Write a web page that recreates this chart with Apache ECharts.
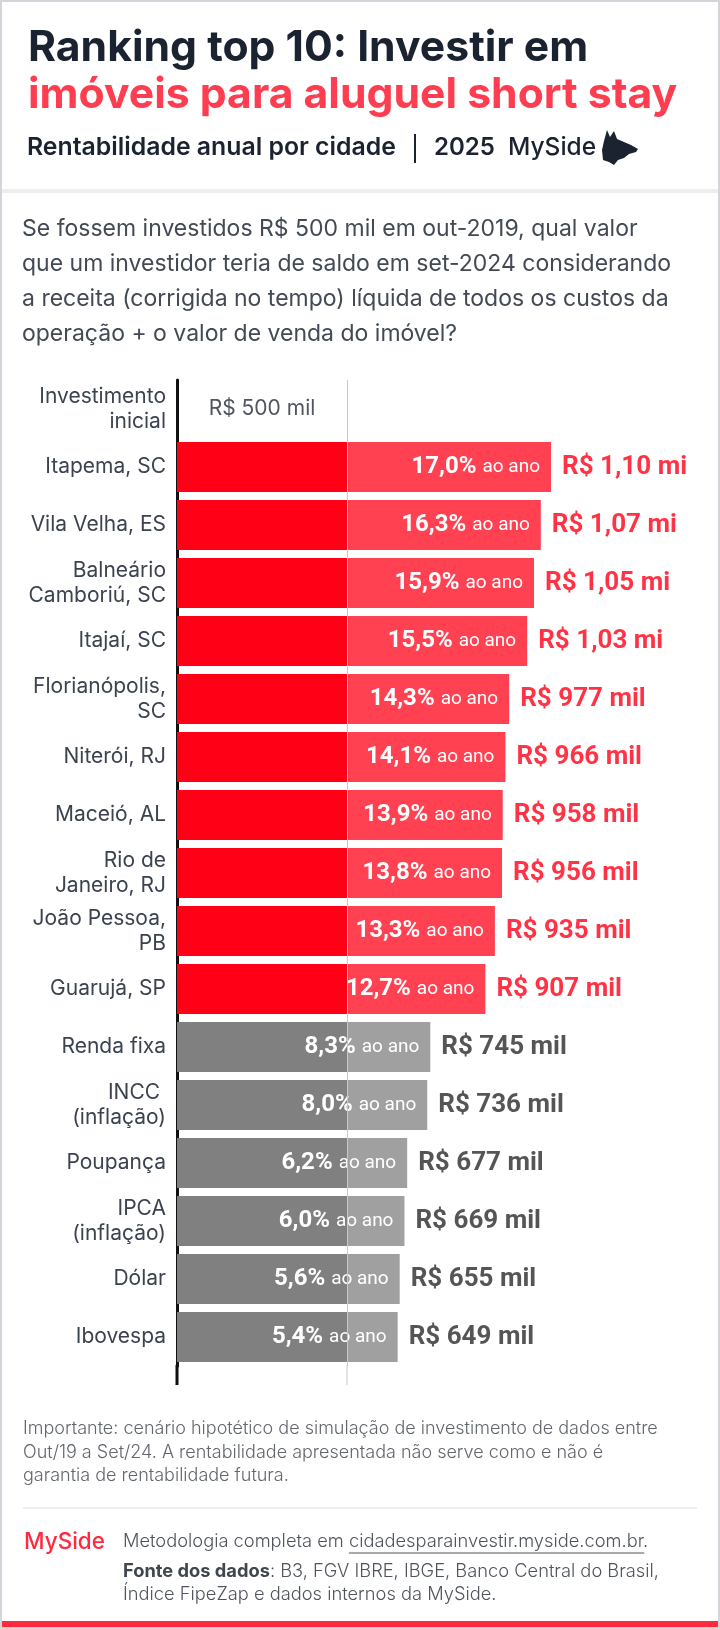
<!DOCTYPE html>
<html><head><meta charset="utf-8">
<script src="https://cdn.jsdelivr.net/npm/echarts@6/dist/echarts.min.js"></script>
<style>html,body{margin:0;padding:0;background:#fff}#c{width:720px;height:1629px}</style>
</head><body><div id="c"></div>
<script>
// ---- DATA ----
const categories = ["Investimento\ninicial","Itapema, SC","Vila Velha, ES","Balneário\nCamboriú, SC","Itajaí, SC","Florianópolis,\nSC","Niterói, RJ","Maceió, AL","Rio de\nJaneiro, RJ","João Pessoa,\nPB","Guarujá, SP","Renda fixa","INCC \n(inflação)","Poupança","IPCA\n(inflação)","Dólar","Ibovespa"];
const rowType = ["inicial","imovel","imovel","imovel","imovel","imovel","imovel","imovel","imovel","imovel","imovel","outro","outro","outro","outro","outro","outro"];
const initialInvestment = 500; // R$ mil
const finalValues = [null,1100,1070,1050,1030,977,966,958,956,935,907,745,736,677,669,655,649]; // R$ mil
const annualRates = [null,17.0,16.3,15.9,15.5,14.3,14.1,13.9,13.8,13.3,12.7,8.3,8.0,6.2,6.0,5.6,5.4]; // % ao ano

const titleLine1 = "Ranking top 10: Investir em";
const titleLine2 = "imóveis para aluguel short stay";
const subtitle = "Rentabilidade anual por cidade";
const year = "2025";
const question = ["Se fossem investidos R$ 500 mil em out-2019, qual valor","que um investidor teria de saldo em set-2024 considerando","a receita (corrigida no tempo) líquida de todos os custos da","operação + o valor de venda do imóvel?"];
const note = ["Importante: cenário hipotético de simulação de investimento de dados entre","Out/19 a Set/24. A rentabilidade apresentada não serve como e não é","garantia de rentabilidade futura."];

// ---- HELPERS ----
const fmtMoney = v => v >= 1000 ? 'R$ ' + (v/1000).toFixed(2).replace('.', ',') + ' mi' : 'R$ ' + v + ' mil';
const fmtRate = r => r.toFixed(1).replace('.', ',') + '%';
const C = {
  darkRed:'#ff0016', lightRed:'#ff4152', darkGray:'#808080', lightGray:'#a0a0a0',
  ink:'#1b2230', coral:'#ff3d50', text:'#434a55', label:'#3c4350'
};

const chart = echarts.init(document.getElementById('c'), null, {renderer:'canvas'});

const baseOption = {
  backgroundColor:'#ffffff',
  animation:false,
  grid:{left:177, right:67, top:380, height:986},
  xAxis:{type:'value', min:0, max:1400, show:false},
  yAxis:{type:'category', data:categories, inverse:true,
    axisLine:{show:true, lineStyle:{color:'#111', width:3}},
    axisTick:{show:false},
    axisLabel:{fontFamily:'Inter', fontSize:21, color:C.label, lineHeight:25, margin:11, align:'right'}
  },
  series:[
    {type:'line', data:[], z:1, silent:true,
      markLine:{silent:true, symbol:'none', label:{show:false},
        lineStyle:{color:'#c8c8c8', width:1, type:'solid'}, data:[{xAxis:initialInvestment}]}},
    {type:'bar', stack:'s', barWidth:50, z:2,
      data: categories.map((c,i)=>({
        value: initialInvestment,
        itemStyle:{color: rowType[i]==='inicial' ? 'rgba(0,0,0,0)' : (rowType[i]==='imovel' ? C.darkRed : C.darkGray)},
        label: rowType[i]==='inicial'
          ? {show:true, position:'inside', formatter: fmtMoney(initialInvestment), color:'#50555f', fontSize:21, fontFamily:'Inter'}
          : {show:false}
      }))},
    {type:'bar', stack:'s', barWidth:50, z:2,
      data: finalValues.map((v,i)=> v==null ? '-' : ({
        value: v - initialInvestment,
        itemStyle:{color: rowType[i]==='imovel' ? C.lightRed : C.lightGray}
      })),
      label:{show:true, position:'insideRight', distance:11,
        formatter: p => annualRates[p.dataIndex]==null ? '' : '{p|' + fmtRate(annualRates[p.dataIndex]) + '}{a|ao ano}',
        rich:{
          p:{fontFamily:'Roboto', fontWeight:'bold', fontSize:24, color:'#fff'},
          a:{fontFamily:'Roboto', fontSize:19, color:'#fff', padding:[0,0,0,6]}
        }}},
    {type:'scatter', symbolSize:0, z:3, silent:true,
      data: finalValues.map((v,i)=> v==null ? null : ({
        value:[v, i],
        label:{show:true, position:'right', distance:11, formatter: fmtMoney(v),
          fontFamily:'Roboto', fontWeight:'bold', fontSize:26,
          color: rowType[i]==='imovel' ? C.darkRed : '#2a2a2c'}
      })).filter(d=>d)}
  ]
};
chart.setOption(baseOption);

// measurement for underline
const mctx = document.createElement('canvas').getContext('2d');
function tw(text, font){ mctx.font = font; return mctx.measureText(text).width; }

const x0 = chart.convertToPixel({gridIndex:0}, [0, 0])[0];
const xRef = chart.convertToPixel({gridIndex:0}, [initialInvestment, 0])[0];
const gridBottom = 380 + 986;

const dogPts = [[603,160],[602,150],[604,141],[607,130],[610,137],[614,131],[617,139],[624,142],[631,145],[638,149],[636,152],[629,154],[624,158],[618,160],[614,165],[609,162]];

const footFont = '300 18.3px Inter';
const metoPre = 'Metodologia completa em ';
const url = 'cidadesparainvestir.myside.com.br';
const urlX = 123 + tw(metoPre, footFont);
const urlW = tw(url, footFont);

const graphics = [
  {type:'rect', shape:{x:1, y:1, width:718, height:1627}, style:{fill:'none', stroke:'#d2d5da', lineWidth:2}, z:100},
  {type:'rect', shape:{x:0, y:189, width:720, height:4}, style:{fill:'#efefef'}},
  {type:'text', style:{text:titleLine1, x:28, y:48, verticalAlign:'middle', fontFamily:'Inter', fontWeight:'bold', fontSize:42.7, fill:C.ink}},
  {type:'text', style:{text:titleLine2, x:28, y:95, verticalAlign:'middle', fontFamily:'Inter', fontWeight:'bold', fontSize:42.7, fill:C.coral}},
  {type:'text', style:{text:subtitle, x:27, y:148, verticalAlign:'middle', fontFamily:'Inter', fontWeight:600, fontSize:24.8, fill:C.ink}},
  {type:'line', shape:{x1:415, y1:134, x2:415, y2:163}, style:{stroke:C.ink, lineWidth:2}},
  {type:'text', style:{text:year, x:434, y:148, verticalAlign:'middle', fontFamily:'Inter', fontWeight:600, fontSize:24, fill:C.ink}},
  {type:'text', style:{text:'MySide', x:508, y:148, verticalAlign:'middle', fontFamily:'Inter', fontWeight:500, fontSize:24.5, fill:C.ink}},
  {type:'polygon', shape:{points:dogPts}, style:{fill:C.ink}},
  {type:'text', style:{text:question.join('\n'), x:22, y:211, verticalAlign:'top', lineHeight:35.3, fontFamily:'Inter', fontSize:23, fill:C.text}},
  {type:'line', shape:{x1:x0, y1:gridBottom-1, x2:x0, y2:1385}, style:{stroke:'#111', lineWidth:3}},
  {type:'line', shape:{x1:xRef, y1:gridBottom-1, x2:xRef, y2:1385}, style:{stroke:'#c8c8c8', lineWidth:1}},
  {type:'text', style:{text:note.join('\n'), x:23, y:1417, verticalAlign:'top', lineHeight:23.5, fontFamily:'Inter', fontWeight:300, fontSize:18, fill:'#62666d'}},
  {type:'rect', shape:{x:23, y:1507, width:674, height:2}, style:{fill:'#efefef'}},
  {type:'text', style:{text:'MySide', x:24, y:1542, verticalAlign:'middle', fontFamily:'Inter', fontWeight:500, fontSize:22.5, fill:'#ff2a3d'}},
  {type:'text', style:{text:metoPre + url + '.', x:123, y:1542, verticalAlign:'middle', fontFamily:'Inter', fontWeight:300, fontSize:18.3, fill:'#50555d'}},
  {type:'line', shape:{x1:urlX, y1:1553, x2:urlX+urlW, y2:1553}, style:{stroke:'#50555d', lineWidth:1}},
  {type:'text', style:{text:'{b|Fonte dos dados}: B3, FGV IBRE, IBGE, Banco Central do Brasil,', x:123, y:1572, verticalAlign:'middle', fontFamily:'Inter', fontWeight:300, fontSize:18.3, fill:'#50555d',
    rich:{b:{fontFamily:'Inter', fontWeight:'bold', fontSize:18.3, fill:'#41464e'}}}},
  {type:'text', style:{text:'Índice FipeZap e dados internos da MySide.', x:123, y:1595, verticalAlign:'middle', fontFamily:'Inter', fontWeight:300, fontSize:18.3, fill:'#50555d'}},
  {type:'rect', shape:{x:0, y:1621, width:720, height:8}, style:{fill:'#ff2a3d'}}
];
chart.setOption({graphic: graphics});
</script></body></html>
